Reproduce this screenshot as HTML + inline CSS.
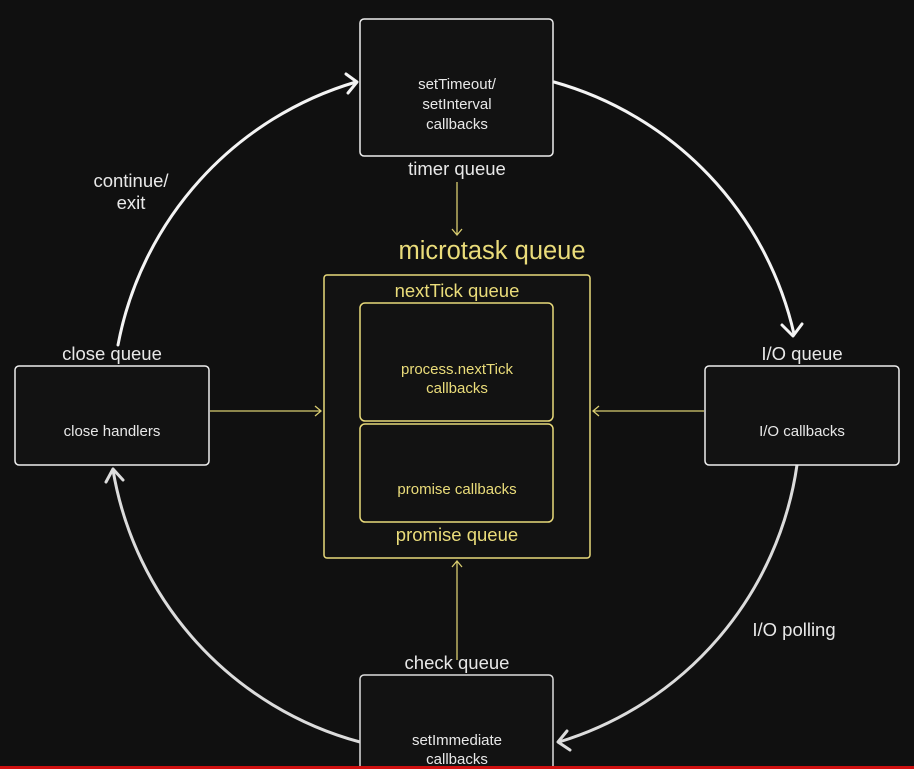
<!DOCTYPE html>
<html><head><meta charset="utf-8"><style>
html,body{margin:0;padding:0;background:#101010;width:914px;height:769px;overflow:hidden}
svg{display:block}
text{font-family:"Liberation Sans",sans-serif}
</style></head><body>
<svg width="914" height="769" viewBox="0 0 914 769">
<rect width="914" height="769" fill="#101010"/>
<g fill="none" stroke-linecap="round" stroke-linejoin="round">
<path d="M118 345 A340 340 0 0 1 356 82" stroke="#f4f4f4" stroke-width="3"/>
<polyline points="346,74 357,82 348,93" stroke="#f4f4f4" stroke-width="3"/>
<path d="M554 82 A340 340 0 0 1 794 334" stroke="#f4f4f4" stroke-width="3"/>
<polyline points="782,325 793,336 802,324" stroke="#f4f4f4" stroke-width="3"/>
<path d="M797 465 A340 340 0 0 1 559 742" stroke="#dcdcdc" stroke-width="3"/>
<polyline points="567,731 558,742 570,750" stroke="#dcdcdc" stroke-width="3"/>
<path d="M360 742 A340 340 0 0 1 113 470" stroke="#dcdcdc" stroke-width="3"/>
<polyline points="106,482 113,469 123,480" stroke="#dcdcdc" stroke-width="3"/>
</g>
<rect x="360" y="19" width="193" height="137" rx="4" fill="#121212" stroke="#eee" stroke-width="1.5"/>
<rect x="15" y="366" width="194" height="99" rx="4" fill="#121212" stroke="#eee" stroke-width="1.5"/>
<rect x="705" y="366" width="194" height="99" rx="4" fill="#121212" stroke="#eee" stroke-width="1.5"/>
<rect x="360" y="675" width="193" height="110" rx="4" fill="#121212" stroke="#ddd" stroke-width="1.5"/>
<rect x="324" y="275" width="266" height="283" rx="3" fill="#121212" stroke="#e8d97a" stroke-width="1.5"/>
<rect x="360" y="303" width="193" height="118" rx="5" fill="#121212" stroke="#e8d97a" stroke-width="1.5"/>
<rect x="360" y="424" width="193" height="98" rx="5" fill="#121212" stroke="#e8d97a" stroke-width="1.5"/>
<g stroke="#d8cc70" stroke-width="1.3" fill="none">
<line x1="457" y1="182" x2="457" y2="234"/><polyline points="452,229 457,235 462,229"/>
<line x1="210" y1="411" x2="321" y2="411"/><polyline points="315,406 321,411 315,416"/>
<line x1="704" y1="411" x2="593" y2="411"/><polyline points="599,406 593,411 599,416"/>
<line x1="457" y1="660" x2="457" y2="561"/><polyline points="452,567 457,561 462,567"/>
</g>
<g fill="#e8e8e8" font-size="15" text-anchor="middle">
<text x="457" y="89">setTimeout/</text>
<text x="457" y="109">setInterval</text>
<text x="457" y="129">callbacks</text>
<text x="112" y="436">close handlers</text>
<text x="802" y="436">I/O callbacks</text>
<text x="457" y="745">setImmediate</text>
<text x="457" y="764">callbacks</text>
</g>
<g fill="#e8e8e8" font-size="18.5" text-anchor="middle">
<text x="457" y="175">timer queue</text>
<text x="112" y="360">close queue</text>
<text x="802" y="360">I/O queue</text>
<text x="457" y="669">check queue</text>
<text x="131" y="187">continue/</text>
<text x="131" y="209">exit</text>
<text x="794" y="636">I/O polling</text>
</g>
<g fill="#eadc7a" text-anchor="middle">
<text x="492" y="259" font-size="25.5">microtask queue</text>
<text x="457" y="297" font-size="18.5">nextTick queue</text>
<text x="457" y="541" font-size="18.5">promise queue</text>
<text x="457" y="374" font-size="15">process.nextTick</text>
<text x="457" y="393" font-size="15">callbacks</text>
<text x="457" y="494" font-size="15">promise callbacks</text>
</g>
<rect x="0" y="766" width="914" height="3" fill="#d01010"/>
</svg>
</body></html>
